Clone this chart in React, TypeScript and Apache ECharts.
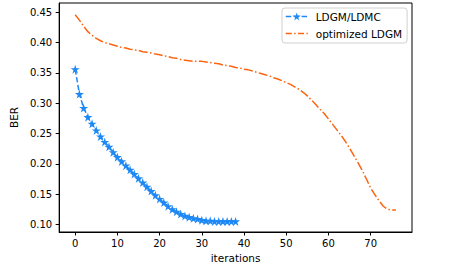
import React, { useEffect, useRef } from "react";
import * as echarts from "echarts";

const yTicks = [0.1, 0.15, 0.2, 0.25, 0.3, 0.35, 0.4, 0.45];
const xTicks = [0, 10, 20, 30, 40, 50, 60, 70];

const ldgmLdmc = [
  0.356, 0.315, 0.292, 0.277, 0.266, 0.255, 0.245, 0.236, 0.228, 0.219,
  0.211, 0.204, 0.197, 0.19, 0.183, 0.176, 0.169, 0.162, 0.155, 0.148,
  0.142, 0.136, 0.13, 0.125, 0.121, 0.117, 0.114, 0.112, 0.11, 0.109,
  0.107, 0.106, 0.106, 0.105, 0.105, 0.105, 0.105, 0.105, 0.105,
];

const optimizedLdgm = [
  0.446, 0.437, 0.427, 0.418, 0.412, 0.407, 0.403, 0.4, 0.398, 0.396,
  0.394, 0.392, 0.391, 0.389, 0.388, 0.387, 0.385, 0.384, 0.383, 0.381,
  0.38, 0.378, 0.377, 0.375, 0.374, 0.372, 0.371, 0.37, 0.369, 0.369,
  0.369, 0.368, 0.367, 0.366, 0.365, 0.363, 0.362, 0.361, 0.359, 0.358,
  0.356, 0.355, 0.353, 0.351, 0.349, 0.347, 0.345, 0.342, 0.34, 0.337,
  0.334, 0.331, 0.327, 0.323, 0.318, 0.312, 0.305, 0.298, 0.29, 0.283,
  0.274, 0.265, 0.256, 0.247, 0.237, 0.226, 0.214, 0.202, 0.189, 0.175,
  0.16, 0.149, 0.139, 0.13, 0.125, 0.124, 0.124,
];

const STAR =
  "path://M50,0 L61.2,34.5 L97.6,34.5 L68.2,55.9 L79.4,90.5 L50,69.1 L20.6,90.5 L31.8,55.9 L2.4,34.5 L38.8,34.5 Z";

const FONT = "DejaVu Sans";
const BLUE = "#1e88f5";
const ORANGE = "#fc6410";

export default function App() {
  const ref = useRef<HTMLDivElement>(null);
  useEffect(() => {
    if (!ref.current) return;
    const chart = echarts.init(ref.current, undefined, { renderer: "svg" });
    chart.setOption({
      animation: false,
      backgroundColor: "#ffffff",
      textStyle: { fontFamily: FONT },
      grid: {
        left: 57,
        top: 3,
        right: 45,
        bottom: 43,
        show: true,
        borderColor: "#000",
        borderWidth: 1,
        backgroundColor: "transparent",
      },
      legend: {
        left: 282,
        top: 8,
        orient: "vertical",
        itemWidth: 22,
        itemHeight: 10,
        itemGap: 6,
        padding: [3, 5, 4, 3],
        borderColor: "#d0d0d0",
        borderWidth: 1,
        borderRadius: 3,
        backgroundColor: "#fff",
        textStyle: {
          fontFamily: FONT,
          fontSize: 10.5,
          color: "#000",
          padding: [0, 0, 0, 3],
        },
        data: [
          {
            name: "LDGM/LDMC",
            itemStyle: { color: BLUE },
            lineStyle: { color: BLUE, width: 1.5, type: [5.5, 2.4] },
          },
          {
            name: "optimized LDGM",
            itemStyle: { color: ORANGE, opacity: 0 },
            lineStyle: { color: ORANGE, width: 1.5, type: [6, 2.4, 1.5, 2.4] },
          },
        ],
      },
      xAxis: {
        type: "value",
        min: -3.8,
        max: 79.8,
        name: "iterations",
        nameLocation: "middle",
        nameGap: 20,
        nameTextStyle: { fontFamily: FONT, fontSize: 10.5, color: "#000" },
        splitLine: { show: false },
        axisLine: { show: true, onZero: false, lineStyle: { color: "#000", width: 1 } },
        axisTick: {
          show: true,
          length: 3.5,
          lineStyle: { color: "#000", width: 1 },
          customValues: xTicks,
        },
        axisLabel: {
          color: "#000",
          fontSize: 10,
          fontFamily: FONT,
          margin: 6,
          customValues: xTicks,
          formatter: (v: number) => String(Math.round(v)),
        },
      },
      yAxis: {
        type: "value",
        min: 0.0875,
        max: 0.4653,
        name: "BER",
        nameLocation: "middle",
        nameGap: 32,
        nameTextStyle: { fontFamily: FONT, fontSize: 10.5, color: "#000" },
        splitLine: { show: false },
        axisLine: { show: true, onZero: false, lineStyle: { color: "#000", width: 1 } },
        axisTick: {
          show: true,
          length: 3.5,
          lineStyle: { color: "#000", width: 1 },
          customValues: yTicks,
        },
        axisLabel: {
          color: "#000",
          fontSize: 10,
          fontFamily: FONT,
          margin: 7,
          customValues: yTicks,
          formatter: (v: number) => v.toFixed(2),
        },
      },
      series: [
        {
          name: "LDGM/LDMC",
          type: "line",
          data: ldgmLdmc.map((v, i) => [i, v]),
          symbol: STAR,
          symbolSize: 9,
          showAllSymbol: true,
          color: BLUE,
          itemStyle: { color: BLUE },
          lineStyle: { color: BLUE, width: 1.5, type: [5.5, 2.4] },
          z: 3,
        },
        {
          name: "optimized LDGM",
          type: "line",
          data: optimizedLdgm.map((v, i) => [i, v]),
          symbol: "none",
          color: ORANGE,
          itemStyle: { color: ORANGE },
          lineStyle: { color: ORANGE, width: 1.5, type: [9, 2.4, 1.5, 2.4] },
          z: 2,
        },
      ],
    });
    return () => chart.dispose();
  }, []);
  return (
    <div
      ref={ref}
      style={{ position: "fixed", left: 0, top: 0, width: 457, height: 275 }}
    />
  );
}
